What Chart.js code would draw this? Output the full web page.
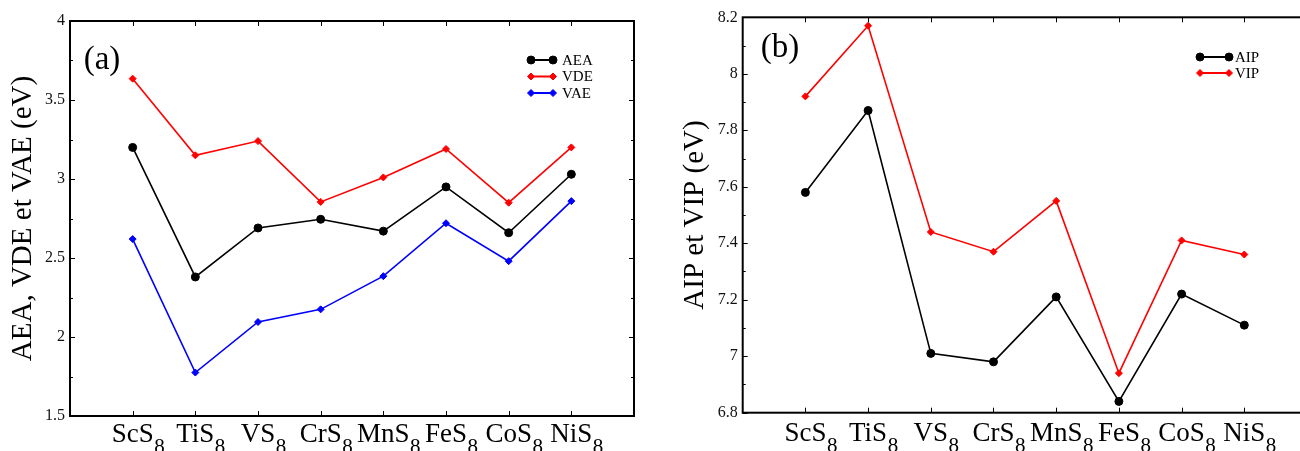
<!DOCTYPE html>
<html><head><meta charset="utf-8">
<script src="https://cdn.jsdelivr.net/npm/chart.js@4.4.1/dist/chart.umd.min.js"></script>
<style>
html,body{margin:0;padding:0;background:#fff;overflow:hidden;width:1300px;height:451px;}
#wrapA{position:absolute;left:0;top:0;width:650px;height:451px;}
#wrapB{position:absolute;left:650px;top:0;width:670px;height:451px;}
</style></head><body>
<div id="wrapA"><canvas id="chartA" width="650" height="451"></canvas></div>
<div id="wrapB"><canvas id="chartB" width="670" height="451"></canvas></div>
<script>
// ---- data ----
const categories = ['ScS8','TiS8','VS8','CrS8','MnS8','FeS8','CoS8','NiS8'];
const aea = [3.20, 2.38, 2.69, 2.745, 2.67, 2.95, 2.66, 3.03];
const vde = [3.635, 3.15, 3.24, 2.855, 3.01, 3.19, 2.85, 3.20];
const vae = [2.62, 1.775, 2.095, 2.175, 2.385, 2.72, 2.48, 2.86];
const aip = [7.58, 7.87, 7.01, 6.98, 7.21, 6.84, 7.22, 7.11];
const vip = [7.92, 8.17, 7.44, 7.37, 7.55, 6.94, 7.41, 7.36];
const yTicksA = [1.5, 2, 2.5, 3, 3.5, 4];
const yTicksB = [6.8, 7, 7.2, 7.4, 7.6, 7.8, 8, 8.2];
const yTitleA = 'AEA, VDE et VAE (eV)';
const yTitleB = 'AIP et VIP (eV)';
const panelA = '(a)';
const panelB = '(b)';

const FONT = "'Liberation Serif', 'Times New Roman', serif";

function toPoints(vals){ return vals.map((v,i)=>({x:i+1, y:v})); }
function splitLabel(s){ const m = s.match(/^(.*?)(\d+)$/); return m ? [m[1], m[2]] : [s, '']; }

function line(ctx,x1,y1,x2,y2){ ctx.beginPath(); ctx.moveTo(x1,y1); ctx.lineTo(x2,y2); ctx.stroke(); }

const framePlugin = {
  id: 'frame',
  afterDraw(chart, args, o) {
    const {ctx, chartArea:a, scales:{x, y}} = chart;
    ctx.save();
    ctx.strokeStyle = '#000';
    ctx.lineWidth = 1;
    // major y ticks, inward on both sides
    y.ticks.forEach(t => {
      const py = Math.round(y.getPixelForValue(t.value)) + 0.5;
      line(ctx, a.left, py, a.left + 5, py);
      line(ctx, a.right, py, a.right - 5, py);
    });
    // minor y ticks
    const n = Math.round((y.max - y.min) / o.minor);
    for (let k = 0; k <= n; k++) {
      const py = Math.round(y.getPixelForValue(y.min + k * o.minor)) + 0.5;
      line(ctx, a.left, py, a.left + 3, py);
      line(ctx, a.right, py, a.right - 3, py);
    }
    // x ticks at categories
    categories.forEach((c, i) => {
      const px = Math.round(x.getPixelForValue(i + 1)) + 0.5;
      line(ctx, px, a.bottom, px, a.bottom - 5);
      line(ctx, px, a.top, px, a.top + 5);
    });
    // frame
    ctx.lineWidth = 2;
    ctx.strokeRect(a.left, a.top, a.right - a.left, a.bottom - a.top);
    // x labels with subscript
    ctx.fillStyle = '#000';
    ctx.textBaseline = 'alphabetic';
    categories.forEach((c, i) => {
      const [base, sub] = splitLabel(c);
      const px = x.getPixelForValue(i + 1);
      ctx.font = '27px ' + FONT;
      const w = ctx.measureText(base).width;
      ctx.textAlign = 'left';
      ctx.fillText(base, px - w / 2, a.bottom + o.labelDy);
      ctx.font = '21px ' + FONT;
      ctx.fillText(sub, px + w / 2 + 0.5, a.bottom + o.labelDy + 11);
    });
    // panel label
    ctx.font = '33px ' + FONT;
    ctx.textAlign = 'center';
    ctx.textBaseline = 'middle';
    ctx.fillText(o.panel, o.panelX, o.panelY);
    // legend
    ctx.font = '15px ' + FONT;
    ctx.textAlign = 'left';
    ctx.textBaseline = 'middle';
    chart.data.datasets.forEach((ds, k) => {
      const ly = o.legY + k * o.legDy;
      ctx.strokeStyle = ds.borderColor;
      ctx.lineWidth = 2;
      line(ctx, o.legX1, ly, o.legX2, ly);
      ctx.fillStyle = ds.backgroundColor;
      ctx.lineWidth = 1;
      const ps = {pointStyle: ds.pointStyle, radius: ds.pointRadius, borderWidth: 1, rotation: 0};
      Chart.helpers.drawPoint(ctx, ps, o.legX1, ly);
      Chart.helpers.drawPoint(ctx, ps, o.legX2, ly);
      ctx.fillStyle = '#000';
      ctx.fillText(ds.label, o.legText, ly + 1);
    });
    ctx.restore();
  }
};

function ds(label, vals, color, style, r){
  return {label, data: toPoints(vals), borderColor: color, backgroundColor: color,
    pointStyle: style, pointRadius: r, pointBorderWidth: 1, pointHoverRadius: r,
    borderWidth: 1.6, tension: 0, fill: false, clip: false};
}

function makeChart(id, datasets, yTicks, title, cfg){
  return new Chart(document.getElementById(id), {
    type: 'line',
    data: {datasets},
    plugins: [framePlugin],
    options: {
      responsive: false, animation: false, devicePixelRatio: 1,
      layout: {padding: {top: cfg.top, right: cfg.right, left: 0, bottom: 0}},
      plugins: {legend: {display: false}, tooltip: {enabled: false}, frame: cfg.frame},
      scales: {
        x: {type: 'linear', min: 0, max: 9, ticks: {display: false},
            grid: {display: false, drawTicks: false}, border: {display: false},
            afterFit(s){ s.height = cfg.xh; }},
        y: {type: 'linear', min: yTicks[0], max: yTicks[yTicks.length-1],
            afterBuildTicks(s){ s.ticks = yTicks.map(v => ({value: v})); },
            ticks: {padding: 5, color: '#111', font: {family: FONT, size: 16},
                    callback: v => String(Number(v.toFixed(2)))},
            grid: {display: false, drawTicks: false}, border: {display: false},
            title: {display: true, text: title, color: '#000',
                    font: {family: FONT, size: 29}, padding: {top: cfg.titlePad, bottom: 0}},
            afterFit(s){ s.width = cfg.yw; }}
      }
    }
  });
}

makeChart('chartA', [
  ds('AEA', aea, '#000000', 'circle', 4),
  ds('VDE', vde, '#ff0000', 'rectRot', 3.5),
  ds('VAE', vae, '#0000ff', 'rectRot', 3.5)
], yTicksA, yTitleA, {top: 21, right: 16, xh: 35, yw: 70, titlePad: 6,
  frame: {minor: 0.25, labelDy: 26, panel: panelA, panelX: 102, panelY: 60,
          legX1: 531, legX2: 553, legText: 562, legY: 60, legDy: 16.5}});

makeChart('chartB', [
  ds('AIP', aip, '#000000', 'circle', 4),
  ds('VIP', vip, '#ff0000', 'rectRot', 3.5)
], yTicksB, yTitleB, {top: 17.3, right: 13, xh: 38.3, yw: 92.7, titlePad: 28,
  frame: {minor: 0.1, labelDy: 28, panel: panelB, panelX: 130, panelY: 48,
          legX1: 550, legX2: 579, legText: 585, legY: 57, legDy: 16}});
</script>
</body></html>
